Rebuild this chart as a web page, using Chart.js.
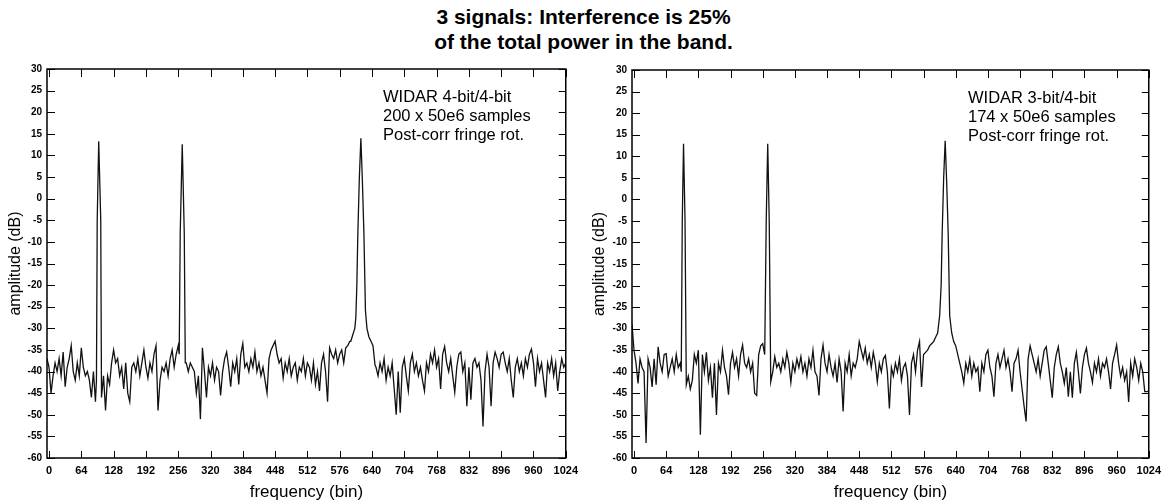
<!DOCTYPE html>
<html>
<head>
<meta charset="utf-8">
<script src="https://cdn.jsdelivr.net/npm/chart.js@4"></script>
<style>
body { margin: 0; background: #fff; width: 1167px; height: 504px; position: relative; overflow: hidden; font-family: "Liberation Sans", Arial, sans-serif; }
#title { position: absolute; left: 0; top: 4px; width: 1167px; text-align: center; font-weight: bold; font-size: 21px; line-height: 25px; color: #000; }
.box { position: absolute; top: 0; height: 504px; }
</style>
</head>
<body>
<div id="title">3 signals: Interference is 25%<br>of the total power in the band.</div>
<div class="box" style="left:0;width:584px"><canvas id="left"></canvas></div>
<div class="box" style="left:584px;width:583px"><canvas id="right"></canvas></div>
<script>
// axis ticks
var xTicks = [0, 64, 128, 192, 256, 320, 384, 448, 512, 576, 640, 704, 768, 832, 896, 960, 1024];
var yMin = -60, yMax = 30, yStep = 5;

// noise floor, one value every 4 bins from bin -4 (null where a peak takes over)
var gridStart = -4, gridStep = 4;

var leftNoise = [
  -37, -39, -45, -41, -38, -40, -37, -41, -35.5, -43.5, -39, -37, -34, -40, -42, -38,
  -41, -34.5, -39, -41, -40, -42, -46, -40, -47, null, null, null, -41, -49, -41, -43,
  -38, -35, -38, -37, -41, -39, -44, -38, -45, -47, -39, -38, -40, -37, -41, -38,
  -35, -39, -41.5, -38, -40, -36, -34, -49, -42, -39, -40, -38, -41, -37, -35, -39,
  -36, -34, null, null, null, -38, -40, -38, -39, -40, -45, -41, -51, -34.5, -40, -46,
  -39, -41, -38, -42, -39, -40, -45.5, -40, -37, -35.5, -39, -43.5, -38, -40, -37, -43,
  -36, -33.5, -39, -38, -40, -37, -39, -35.5, -40, -38, -41, -39, -42, -45, -37, -35,
  -34, -33, -36, -38, -37, -41.5, -38, -40, -37, -41, -39, -38, -42, -39, -40, -37,
  -41, -38, -39, -42, -38, -43, -40, -44.5, -38, -36, -40, -47, -34.5, -36, -37, -35,
  -38, -36, -35, -38, -34.5, -34, -33, null, null, null, null, null, null, null, null, null,
  null, null, null, -39, -41, -38, -40, -37, -42, -39, -41, -38, -44, -50, -40, -49.5,
  -39, -37, -41, -44.5, -38, -36, -40, -38, -41, -39, -42, -44.5, -38, -40, -36, -38,
  -35, -39, -37, -44, -36, -34.2, -38, -40, -37, -41, -44.8, -39, -36, -35.5, -40, -38,
  -48, -39, -46.5, -38, -37, -39, -38, -42, -52.7, -40, -36, -39, -48, -38, -35.5, -37,
  -39, -36, -35.5, -38, -40, -37, -42, -46, -39, -37, -40, -38, -41, -37, -39, -36,
  -34.8, -38, -43.5, -37, -40, -38, -42, -46, -38, -40, -37, -41, -38, -44.5, -40, -37,
  -39, -38
];
var leftPeakBins = [94, 95.5, 98.5, 102.5, 104,
                    258, 260, 264, 268, 270,
                    598, 602, 606, 608, 610, 612, 615, 618, 621, 624, 627, 630, 634, 638, 642, 646];
var leftPeakDb = [-42, -5, 13.3, -5, -46,
                  -36, -8, 12.6, -8, -38,
                  -33, -31.5, -30, -27.5, -20, -8, 5, 14, 4, -8, -25.8, -30, -32, -33, -34, -38.5];

var rightNoise = [
  -29, -35, -38, -42.7, -37, -39, -40, -56.5, -37, -39, -43.5, -37, -43, -34.2, -38, -40,
  -36, -35.8, -41, -39, -37, -40, -36, -39, -38, null, null, null, -41, -44, -42, -36,
  -38, -35, -54.6, -36, -40, -35.5, -42, -39, -46, -38, -50, -38, -40, -35, -39, -41,
  -45.3, -38, -35.5, -39, -37, -41, -36, -33.8, -38, -39, -37, -40, -38, -45, -45.5, -36,
  -34, -33.5, null, null, null, null, -40, -36.5, -39, -38, -40, -37, -39, -35.5, -38, -42.5,
  -38, -40, -37, -39, -36.5, -40, -38, -41, -37, -39, -35, -40, -41, -45.5, -37, -33.8,
  -38, -40, -36, -39, -41, -38, -42.5, -37, -40, -49.2, -38, -40, -36, -41, -38, -39,
  -37, -33, -35, -37, -34.5, -38, -36, -39, -35.5, -38, -42.3, -38, -40, -37, -36.2, -40,
  -48.5, -39, -41, -38, -40, -37, -42, -39, -38, -41, -50, -38, -36, -40, -35, -33,
  -43.5, -36, -35.5, -35, -34, -33.5, -33, null, null, null, null, null, null, null, null, null,
  null, null, null, -38, -40, -42.6, -38, -40, -37, -41, -38, -40, -39, -44.6, -38, -40,
  -36, -35, -39, -41, -45.8, -38, -36, -39, -37, -35, -39, -37, -40, -44.6, -38, -37,
  -35, -40, -44, -48, -51.5, -37, -34, -36, -38, -40, -37, -41, -38, -35, -34.2, -38,
  -42, -46, -39, -36, -34.2, -38, -40, -42.7, -39, -45.8, -40, -46, -38, -35.5, -40, -45,
  -39, -36, -34.5, -38, -40, -42.5, -38, -40, -37, -41, -38, -39, -37, -40, -44, -38,
  -36, -33.8, -38, -41, -39, -42, -40, -47, -38, -41, -37, -39, -42, -38, -40, -44.6,
  -44.6, -44.5
];
var rightPeakBins = [94, 96, 98.5, 101.5, 104,
                     260, 263, 266, 269, 272,
                     600, 604, 608, 611, 613, 616, 619, 622, 625, 628, 632, 636, 640, 646];
var rightPeakDb = [-40, -5, 12.9, -5, -43,
                   -36, -5, 12.9, -5, -42.3,
                   -32, -31, -27, -20, -8, 5, 13.6, 4, -8, -27, -31, -33, -34, -37];

var leftNote = ['WIDAR 4-bit/4-bit', '200 x 50e6 samples', 'Post-corr fringe rot.'];
var rightNote = ['WIDAR 3-bit/4-bit', '174 x 50e6 samples', 'Post-corr fringe rot.'];

Chart.defaults.font.family = '"Liberation Sans", Arial, sans-serif';
Chart.defaults.color = '#000';

function buildPoints(noise, peakBins, peakDb) {
  var pts = [];
  for (var i = 0; i < noise.length; i++) {
    if (noise[i] !== null) pts.push({x: gridStart + i * gridStep, y: noise[i]});
  }
  for (var j = 0; j < peakBins.length; j++) {
    pts.push({x: peakBins[j], y: peakDb[j]});
  }
  pts.sort(function (a, b) { return a.x - b.x; });
  return pts;
}

// box around the plot, inward ticks on all sides, and the text block
var framePlugin = {
  id: 'frame',
  afterDraw: function (chart, args, opts) {
    var ctx = chart.ctx, a = chart.chartArea;
    var xs = chart.scales.x, ys = chart.scales.y;
    ctx.save();
    ctx.strokeStyle = '#000';
    ctx.lineWidth = 1.5;
    ctx.strokeRect(a.left, a.top, a.right - a.left, a.bottom - a.top);
    ctx.lineWidth = 1;
    ctx.beginPath();
    xs.ticks.forEach(function (t) {
      var px = Math.round(xs.getPixelForValue(t.value)) + 0.5;
      ctx.moveTo(px, a.bottom); ctx.lineTo(px, a.bottom - 7);
      ctx.moveTo(px, a.top); ctx.lineTo(px, a.top + 8);
    });
    ys.ticks.forEach(function (t) {
      var py = Math.round(ys.getPixelForValue(t.value)) + 0.5;
      ctx.moveTo(a.left, py); ctx.lineTo(a.left + 8, py);
      ctx.moveTo(a.right, py); ctx.lineTo(a.right - 7, py);
    });
    ctx.stroke();
    ctx.fillStyle = '#000';
    ctx.font = '16.5px "Liberation Sans", Arial, sans-serif';
    ctx.textBaseline = 'middle';
    ctx.textAlign = 'left';
    opts.lines.forEach(function (s, k) {
      ctx.fillText(s, a.left + opts.dx, a.top + 28 + k * 19);
    });
    ctx.restore();
  }
};

function makeChart(id, pts, note, yWidth, padRight, padTop) {
  return new Chart(document.getElementById(id), {
    type: 'line',
    data: {
      datasets: [{
        data: pts,
        borderColor: '#111',
        borderWidth: 1.3,
        pointRadius: 0,
        tension: 0,
        fill: false
      }]
    },
    options: {
      responsive: true,
      maintainAspectRatio: false,
      animation: false,
      events: [],
      layout: { padding: { left: 0, right: padRight, top: padTop, bottom: 0 } },
      plugins: {
        legend: { display: false },
        tooltip: { enabled: false },
        frame: { lines: note, dx: 336 }
      },
      scales: {
        x: {
          type: 'linear',
          min: -4,
          max: 1024,
          afterBuildTicks: function (s) { s.ticks = xTicks.map(function (v) { return {value: v}; }); },
          afterFit: function (s) { s.height = 504 - 458; },
          grid: { drawOnChartArea: false, drawTicks: false },
          border: { display: false },
          ticks: {
            font: { size: 11, weight: 'bold' }, padding: 6, maxRotation: 0, autoSkip: false,
            callback: function (v) { return String(v); }
          },
          title: { display: true, text: 'frequency (bin)', font: { size: 17 }, padding: { top: 0, bottom: 1 } }
        },
        y: {
          min: yMin,
          max: yMax,
          afterFit: function (s) { s.width = yWidth; },
          grid: { drawOnChartArea: false, drawTicks: false },
          border: { display: false },
          ticks: { stepSize: yStep, font: { size: 10, weight: 'bold' }, padding: 5 },
          title: { display: true, text: 'amplitude (dB)', font: { size: 16 }, padding: { top: 6, bottom: 0 } }
        }
      }
    },
    plugins: [framePlugin]
  });
}

makeChart('left', buildPoints(leftNoise, leftPeakBins, leftPeakDb), leftNote, 47, 16, 69);
makeChart('right', buildPoints(rightNoise, rightPeakBins, rightPeakDb), rightNote, 48, 14, 70);
</script>
</body>
</html>
